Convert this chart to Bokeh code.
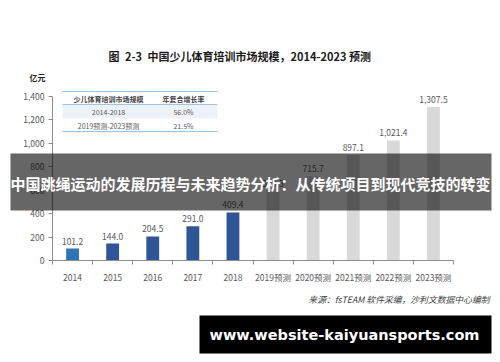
from bokeh.plotting import figure
from bokeh.models import (Range1d, FixedTicker, NumeralTickFormatter, Label,
                          BoxAnnotation)
from bokeh.core.properties import value
from bokeh.embed import file_html
from bokeh.resources import INLINE

# ---- data ----
years = ["2014", "2015", "2016", "2017", "2018",
         "2019预测", "2020预测", "2021预测", "2022预测", "2023预测"]
market = [101.2, 144.0, 204.5, 291.0, 409.4, 589.3, 715.7, 897.1, 1021.4, 1307.5]
bar_colors = ["#2e75b6", "#2f5597", "#2f5597", "#2f5597", "#2f5597",
              "#d9d9d9", "#d9d9d9", "#d9d9d9", "#d9d9d9", "#d9d9d9"]
y_ticks = [0, 200, 400, 600, 800, 1000, 1200, 1400]
table_header = ["少儿体育培训市场规模", "年复合增长率"]
table_periods = ["2014-2018", "2019预测-2023预测"]
table_cagr = ["56.0%", "21.5%"]

title_text = "图\u20022-3\u2002中国少儿体育培训市场规模，2014-2023 预测"
unit_text = "亿元"
source_text = "来源：fsTEAM 软件采编，沙利文数据中心编制"
banner_text = "中国跳绳运动的发展历程与未来趋势分析：从传统项目到现代竞技的转变"
site_text = "www.website-kaiyuansports.com"

CJK = "Noto Sans CJK SC"

# ---- layout (pixel geometry of the picture) ----
W, H = 492, 354
AX_LEFT, AX_BOTTOM = 52, 260       # where x=0 / y=0 sit on the canvas
XS = 40.1                          # px per category
YS = 174.0 / 1481.0                # px per unit (亿元)


def dx(ix):
    return (ix - AX_LEFT) / XS


def dy(iy):
    return (AX_BOTTOM - iy) / YS


p = figure(width=W, height=H, output_backend="svg", toolbar_location=None,
           x_range=Range1d(dx(0), dx(W)), y_range=Range1d(dy(H), dy(0)),
           min_border=0, min_border_left=0, min_border_right=0,
           min_border_top=0, min_border_bottom=0)
p.outline_line_color = None
p.xgrid.visible = False
p.ygrid.visible = False
p.background_fill_color = "white"
p.border_fill_color = "white"

centers = [i + 0.5 for i in range(len(years))]

# axes (kept in their side panels, drawn at fixed data locations)
xa = p.xaxis[0]
xa.fixed_location = 0
xa.bounds = (0, len(years))
xa.ticker = FixedTicker(ticks=centers, minor_ticks=list(range(len(years) + 1)))
xa.major_label_overrides = {c: y for c, y in zip(centers, years)}
xa.major_tick_out = 0
xa.major_tick_in = 0
xa.minor_tick_out = 4
xa.minor_tick_in = 0
xa.axis_line_color = "#8c8c8c"
xa.minor_tick_line_color = "#8c8c8c"
xa.major_label_text_font = CJK
xa.major_label_text_font_size = "8.5px"
xa.major_label_text_color = "#595959"
xa.major_label_standoff = 6

ya = p.yaxis[0]
ya.fixed_location = 0
ya.bounds = (0, 1400)
ya.ticker = FixedTicker(ticks=y_ticks, minor_ticks=[])
ya.formatter = NumeralTickFormatter(format="0,0")
ya.major_tick_out = 4
ya.major_tick_in = 0
ya.axis_line_color = "#8c8c8c"
ya.major_tick_line_color = "#8c8c8c"
ya.major_label_text_font = CJK
ya.major_label_text_font_size = "8.5px"
ya.major_label_text_color = "#595959"
ya.major_label_standoff = 4

# bars
p.vbar(x=centers, top=market, width=0.32, fill_color=bar_colors,
       line_color=None)
p.text(x=centers, y=market, text=[f"{v:,.1f}" for v in market],
       text_font=value(CJK), text_font_size="8.5px", text_color="#595959",
       text_align="center", text_baseline="bottom", y_offset=-4)

# table inset
tl, tr = dx(62), dx(217)
p.quad(left=[tl], right=[tr], top=[dy(104)], bottom=[dy(118)],
       fill_color="#edf1f8", line_color=None)
p.segment(x0=[tl, tl, tl], x1=[tr, tr, tr],
          y0=[dy(91), dy(104), dy(131)], y1=[dy(91), dy(104), dy(131)],
          line_color=["#9dc3e6", "#9dc3e6", "#9dc3e6"], line_width=1)
col_x = [dx(108), dx(183)]
p.text(x=col_x, y=[dy(98)] * 2, text=table_header, text_font=value(CJK),
       text_font_size="7px", text_font_style="bold", text_color="#404040",
       text_align="center", text_baseline="middle")
p.text(x=[col_x[0]] * 2, y=[dy(111), dy(125)], text=table_periods,
       text_font=value(CJK), text_font_size="7px", text_color="#595959",
       text_align="center", text_baseline="middle")
p.text(x=[col_x[1]] * 2, y=[dy(111), dy(125)], text=table_cagr,
       text_font=value(CJK), text_font_size="7px", text_color="#595959",
       text_align="center", text_baseline="middle")

# title, unit, source
p.add_layout(Label(x=dx(108), y=dy(55), text=title_text, text_font=CJK,
                   text_font_size="11px", text_font_style="bold",
                   text_color="#1a1a1a", text_align="left",
                   text_baseline="middle"))
p.add_layout(Label(x=dx(37), y=dy(77), text=unit_text, text_font=CJK,
                   text_font_size="8px", text_font_style="bold",
                   text_color="#262626", text_align="center",
                   text_baseline="middle"))
p.add_layout(Label(x=dx(489), y=dy(299), text=source_text, text_font=CJK,
                   text_font_size="8.8px", text_font_style="italic",
                   text_color="#404040", text_align="right",
                   text_baseline="middle"))

# overlay banner
p.add_layout(BoxAnnotation(left=dx(10), right=dx(491), top=dy(153),
                           bottom=dy(210), fill_color="black", fill_alpha=0.6,
                           line_color=None))
p.add_layout(Label(x=dx(250), y=dy(183), text=banner_text, text_font=CJK,
                   text_font_size="15px", text_font_style="bold",
                   text_color="white", text_align="center",
                   text_baseline="middle"))
# site box
p.add_layout(BoxAnnotation(left=dx(199), right=dx(491), top=dy(315),
                           bottom=dy(353), fill_color="black", fill_alpha=1.0,
                           line_color=None))
p.add_layout(Label(x=dx(344), y=dy(334), text=site_text,
                   text_font="DejaVu Sans", text_font_size="14.5px",
                   text_font_style="bold", text_color="white",
                   text_align="center", text_baseline="middle"))

open("out.html", "w").write(file_html(p, INLINE))
